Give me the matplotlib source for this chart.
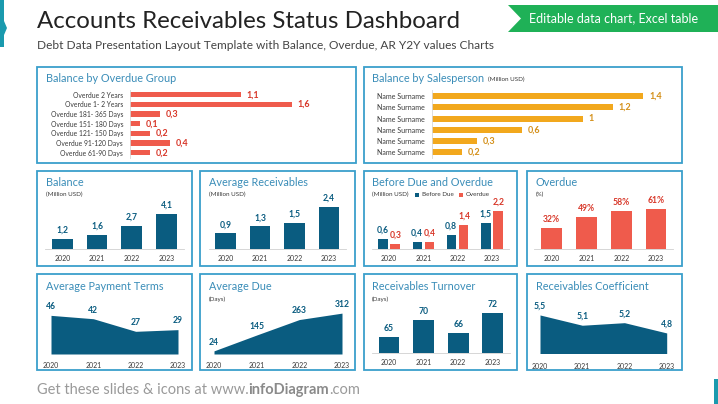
import numpy as np
import matplotlib
matplotlib.use("Agg")
import matplotlib.pyplot as plt
from matplotlib.patches import Rectangle, Polygon

plt.rcParams["font.family"] = ["Lato", "DejaVu Sans"]

# ---- data ----
years = ["2020", "2021", "2022", "2023"]

overdue_groups = ["Overdue 2 Years", "Overdue 1- 2 Years", "Overdue 181- 365 Days",
                  "Overdue 151- 180 Days", "Overdue 121- 150 Days",
                  "Overdue 91-120 Days", "Overdue 61-90 Days"]
overdue_group_vals = [1.1, 1.6, 0.3, 0.1, 0.2, 0.4, 0.2]

salespeople = ["Name Surname"] * 6
salesperson_vals = [1.4, 1.2, 1.0, 0.6, 0.3, 0.2]

balance = [1.2, 1.6, 2.7, 4.1]
avg_receivables = [0.9, 1.3, 1.5, 2.4]
before_due = [0.6, 0.4, 0.8, 1.5]
overdue_amt = [0.3, 0.4, 1.4, 2.2]
overdue_pct = [32, 49, 58, 61]
avg_payment_terms = [46, 42, 27, 29]
avg_due = [24, 145, 263, 312]
turnover = [65, 70, 66, 72]
coefficient = [5.5, 5.1, 5.2, 4.8]

# ---- colours ----
BORDER = "#3A9FCB"
TITLE = "#3A8DB8"
BLUE = "#0A5C80"
RED = "#EF5B4C"
RED_TXT = "#D8382A"
ORANGE = "#F2A81D"
ORANGE_TXT = "#D4901A"
GREEN = "#1FB157"
DARK = "#3A3A3A"

W, H = 718, 404
fig = plt.figure(figsize=(W / 100, H / 100), dpi=100)
fig.patch.set_facecolor("white")

bg = fig.add_axes([0, 0, 1, 1])
bg.set_xlim(0, W)
bg.set_ylim(H, 0)
bg.axis("off")


def fmt(v):
    s = f"{v:g}"
    return s.replace(".", ",")


def px_axes(x0, y0, x1, y1):
    ax = fig.add_axes([x0 / W, 1 - y1 / H, (x1 - x0) / W, (y1 - y0) / H])
    ax.patch.set_alpha(0)
    return ax


def panel(x0, y0, x1, y1, title, tx, ty, sub=None, sy=None):
    bg.add_patch(Rectangle((x0, y0), x1 - x0, y1 - y0, fill=False,
                           edgecolor=BORDER, lw=1.3))
    bg.text(tx, ty, title, color=TITLE, fontsize=7.8, va="center", ha="left")
    if sub:
        bg.text(tx, sy, sub, color=DARK, fontsize=4.5, va="center", ha="left")


def year_axis(ax, pad=4.5):
    ax.set_xticks(range(4))
    ax.set_xticklabels(years, fontsize=5, color=DARK)
    ax.tick_params(axis="x", length=0, pad=pad)
    ax.set_yticks([])
    for s in ["top", "right", "left"]:
        ax.spines[s].set_visible(False)
    ax.spines["bottom"].set_color("#D0D0D0")
    ax.spines["bottom"].set_linewidth(0.6)


def bar_labels(ax, xs, vals, color, texts=None):
    for i, (x, v) in enumerate(zip(xs, vals)):
        t = texts[i] if texts else fmt(v)
        ax.annotate(t, (x, v), xytext=(0, 3), textcoords="offset points",
                    ha="center", va="bottom", fontsize=6.2, fontweight="bold",
                    color=color, annotation_clip=False)


# ---- header ----
bg.add_patch(Polygon([(0, 0), (4, 0), (4, 21), (7, 28), (4, 35), (4, 47), (0, 47)],
                     closed=True, color="#1A9AAE", lw=0))
bg.text(37, 21, "Accounts Receivables Status Dashboard", fontsize=17.3,
        color="#222222", va="center", ha="left")
bg.text(37, 45.5, "Debt Data Presentation Layout Template with Balance, Overdue, AR Y2Y values Charts",
        fontsize=8.6, color="#444444", va="center", ha="left")
bg.add_patch(Polygon([(508, 5), (W, 5), (W, 32), (508, 32), (521, 18.5)],
                     closed=True, color=GREEN, lw=0))
bg.text(614, 18.5, "Editable data chart, Excel table", fontsize=9, color="white",
        va="center", ha="center")

# ---- row 1 ----
panel(37, 66.5, 356, 162.5, "Balance by Overdue Group", 46, 78)
ax = px_axes(130, 89.9, 340, 157.5)
yy = np.arange(len(overdue_groups))
ax.barh(yy, overdue_group_vals, height=0.55, color=RED)
ax.set_xlim(0, 210 / 101)
ax.set_ylim(len(overdue_groups) - 0.5, -0.5)
ax.set_yticks(yy)
ax.set_yticklabels(overdue_groups, fontsize=4.9, color=DARK)
ax.tick_params(axis="y", length=0, pad=5)
ax.set_xticks([])
for s in ["top", "right", "bottom"]:
    ax.spines[s].set_visible(False)
ax.spines["left"].set_color("#D8D8D8")
ax.spines["left"].set_linewidth(0.6)
for y, v in zip(yy, overdue_group_vals):
    ax.annotate(fmt(v), (v, y), xytext=(4, 0), textcoords="offset points",
                va="center", ha="left", fontsize=6.5, fontweight="bold", color=RED_TXT)

panel(363.5, 66.5, 682, 162.5, "Balance by Salesperson", 371.7, 78)
bg.text(488, 79.3, "(Million USD)", fontsize=4.5, color=DARK, va="center")
ax = px_axes(431.7, 90.4, 670, 157.9)
yy = np.arange(len(salespeople))
ax.barh(yy, salesperson_vals, height=0.53, color=ORANGE)
ax.set_xlim(0, 238.3 / 151.2)
ax.set_ylim(len(salespeople) - 0.5, -0.5)
ax.set_yticks(yy)
ax.set_yticklabels(salespeople, fontsize=5, color=DARK)
ax.tick_params(axis="y", length=0, pad=5)
ax.set_xticks([])
for s in ["top", "right", "bottom"]:
    ax.spines[s].set_visible(False)
ax.spines["left"].set_color("#D8D8D8")
ax.spines["left"].set_linewidth(0.6)
for y, v in zip(yy, salesperson_vals):
    ax.annotate(fmt(v), (v, y), xytext=(4, 0), textcoords="offset points",
                va="center", ha="left", fontsize=6.5, fontweight="bold", color=ORANGE_TXT)

# ---- row 2 ----
x = np.arange(4)
panel(37, 171, 192, 265.5, "Balance", 46, 183, "(Million USD)", 194.7)
ax = px_axes(44.9, 200, 184, 249)
ax.bar(x, balance, width=0.6, color=BLUE)
ax.set_xlim(-0.5, 3.5)
ax.set_ylim(0, 49 / 8.61)
year_axis(ax)
bar_labels(ax, x, balance, BLUE)

panel(200, 171, 354.5, 265.5, "Average Receivables", 209, 183, "(Million USD)", 194.7)
ax = px_axes(208.5, 200, 346.2, 249)
ax.bar(x, avg_receivables, width=0.6, color=BLUE)
ax.set_xlim(-0.5, 3.5)
ax.set_ylim(0, 49 / 17.4)
year_axis(ax)
bar_labels(ax, x, avg_receivables, BLUE)

panel(363.5, 171, 517, 265.5, "Before Due and Overdue", 371.7, 183, "(Million USD)", 194.7)
bg.add_patch(Rectangle((415, 192.5), 4, 4, color=BLUE, lw=0))
bg.text(421.5, 194.7, "Before Due", fontsize=4.5, color=DARK, va="center")
bg.add_patch(Rectangle((459, 192.5), 4, 4, color=RED, lw=0))
bg.text(465.5, 194.7, "Overdue", fontsize=4.5, color=DARK, va="center")
ax = px_axes(371.9, 200, 509.2, 249)
ax.bar(x - 0.175, before_due, width=0.27, color=BLUE)
ax.bar(x + 0.175, overdue_amt, width=0.27, color=RED)
ax.set_xlim(-0.5, 3.5)
ax.set_ylim(0, 49 / 17.4)
year_axis(ax)
bar_labels(ax, x - 0.19, before_due, BLUE)
bar_labels(ax, x + 0.19, overdue_amt, RED_TXT)

panel(527, 171, 682, 265.5, "Overdue", 536, 183, "(%)", 194.7)
ax = px_axes(534.3, 200, 673.4, 249)
ax.bar(x, overdue_pct, width=0.6, color=RED)
ax.set_xlim(-0.5, 3.5)
ax.set_ylim(0, 49 / 0.656)
year_axis(ax)
bar_labels(ax, x, overdue_pct, RED_TXT, [f"{v}%" for v in overdue_pct])

# ---- row 3 ----
panel(37, 274, 192, 370, "Average Payment Terms", 46, 286.7)
ax = px_axes(51, 300, 178, 354)
ax.fill_between(x, avg_payment_terms, color=BLUE, lw=0)
ax.set_xlim(0, 3)
ax.set_ylim(0, 54 / 0.84)
year_axis(ax, pad=6)
ax.spines["bottom"].set_visible(False)
bar_labels(ax, x, avg_payment_terms, BLUE)

panel(200, 274, 354.5, 370, "Average Due", 209, 286.7, "(Days)", 299)
ax = px_axes(214, 300, 342, 354)
ax.fill_between(x, avg_due, color=BLUE, lw=0)
ax.set_xlim(0, 3)
ax.set_ylim(0, 54 / 0.131)
year_axis(ax, pad=6)
ax.spines["bottom"].set_visible(False)
bar_labels(ax, x, avg_due, BLUE)

panel(363.5, 274, 517, 370, "Receivables Turnover", 371.7, 286.7, "(Days)", 299)
ax = px_axes(371.7, 300, 510, 353)
ax.bar(x, turnover, width=0.6, color=BLUE)
ax.set_xlim(-0.5, 3.5)
ax.set_ylim(60.2, 60.2 + 53 / 3.4)
year_axis(ax)
bar_labels(ax, x, turnover, BLUE)

panel(527, 274, 682, 370, "Receivables Coefficient", 536, 286.7)
ax = px_axes(540, 300, 666.7, 353)
ax.fill_between(x, coefficient, 0, color=BLUE, lw=0)
ax.set_xlim(0, 3)
ax.set_ylim(4.02, 4.02 + 53 / 25.7)
year_axis(ax, pad=7)
ax.spines["bottom"].set_visible(False)
bar_labels(ax, x, coefficient, BLUE)

# ---- footer ----
t1 = bg.text(37, 390, "Get these slides & icons at www.", fontsize=10.5, color="#9A9A9A",
             va="center", ha="left")
t2 = bg.annotate("infoDiagram", xy=(1, 0), xycoords=t1, va="bottom", ha="left",
                 fontsize=10.5, color="#8A8A8A", fontweight="bold")
bg.annotate(".com", xy=(1, 0), xycoords=t2, va="bottom", ha="left",
            fontsize=10.5, color="#9A9A9A")
bg.add_patch(Rectangle((714, 379), 4, 25, color="#1A9AAE", lw=0))

fig.savefig("out.png", dpi=100)
